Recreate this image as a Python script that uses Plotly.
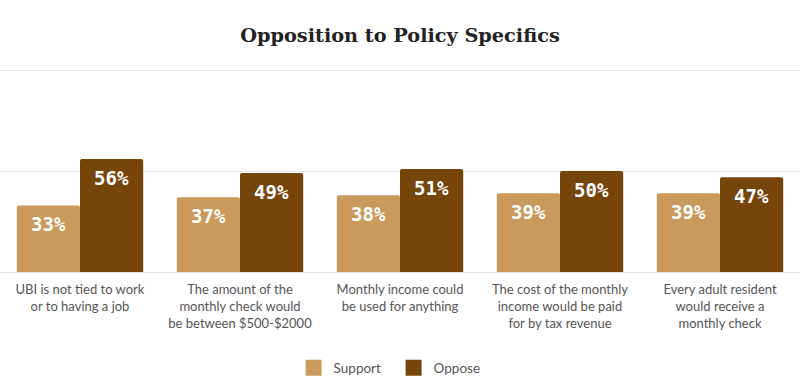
import plotly.graph_objects as go

categories = [
    "UBI is not tied to work<br>or to having a job",
    "The amount of the<br>monthly check would<br>be between $500-$2000",
    "Monthly income could<br>be used for anything",
    "The cost of the monthly<br>income would be paid<br>for by tax revenue",
    "Every adult resident<br>would receive a<br>monthly check",
]
support = [33, 37, 38, 39, 39]
oppose = [56, 49, 51, 50, 47]
series_names = ["Support", "Oppose"]
colors = ["#C99A5B", "#76450C"]

BARGAP = 0.21
label_font = dict(family="DejaVu Sans Mono", size=19, color="white", weight="bold")

fig = go.Figure()
for name, vals, col in zip(series_names, [support, oppose], colors):
    fig.add_trace(go.Bar(
        name=name, x=categories, y=vals, showlegend=False, legendgroup=name,
        marker=dict(color=col, line=dict(width=0)), hoverinfo="skip",
    ))
for name, col in zip(series_names, colors):
    fig.add_trace(go.Scatter(
        name=name, x=[None], y=[None], mode="markers", legendgroup=name,
        marker=dict(symbol="square", size=16, color=col),
    ))

# value labels placed at the top of each bar, inside
half = (1 - BARGAP) / 4
for k, vals in enumerate([support, oppose]):
    for i, v in enumerate(vals):
        fig.add_annotation(x=i + (half if k else -half), y=v, xref="x", yref="y",
                           text=f"{v}%", showarrow=False, yanchor="middle",
                           yshift=-19, font=label_font)

fig.update_layout(
    width=800, height=377,
    barmode="group", bargap=BARGAP, bargroupgap=0,
    barcornerradius=2,
    paper_bgcolor="white", plot_bgcolor="white",
    margin=dict(l=0, r=0, t=69, b=105),
    title=dict(text="Opposition to Policy Specifics", x=0.5, xanchor="center",
               y=0.907, yanchor="middle",
               font=dict(family="DejaVu Serif", size=19.3, color="#222222", weight="bold")),
    font=dict(family="Lato, Noto Sans, sans-serif", size=13, color="#555555"),
    legend=dict(orientation="h", x=0.492, xanchor="center",
                yref="container", y=0.024, yanchor="middle",
                font=dict(size=13.5, color="#555555"), itemwidth=30,
                entrywidth=55, traceorder="normal"),
    showlegend=True,
)
fig.update_yaxes(range=[0, 100.6], tickvals=[0, 50, 100], showticklabels=False,
                 gridcolor="#E6E6E6", gridwidth=1, zeroline=True,
                 zerolinecolor="#E6E6E6", zerolinewidth=1, fixedrange=True)
fig.update_xaxes(showline=False, tickfont=dict(size=13, color="#555555"),
                 ticks="", automargin=False, ticklabelstandoff=8, fixedrange=True)

fig.write_html("out.html", config={"displayModeBar": False},
               post_script="document.body.style.margin='0';")
